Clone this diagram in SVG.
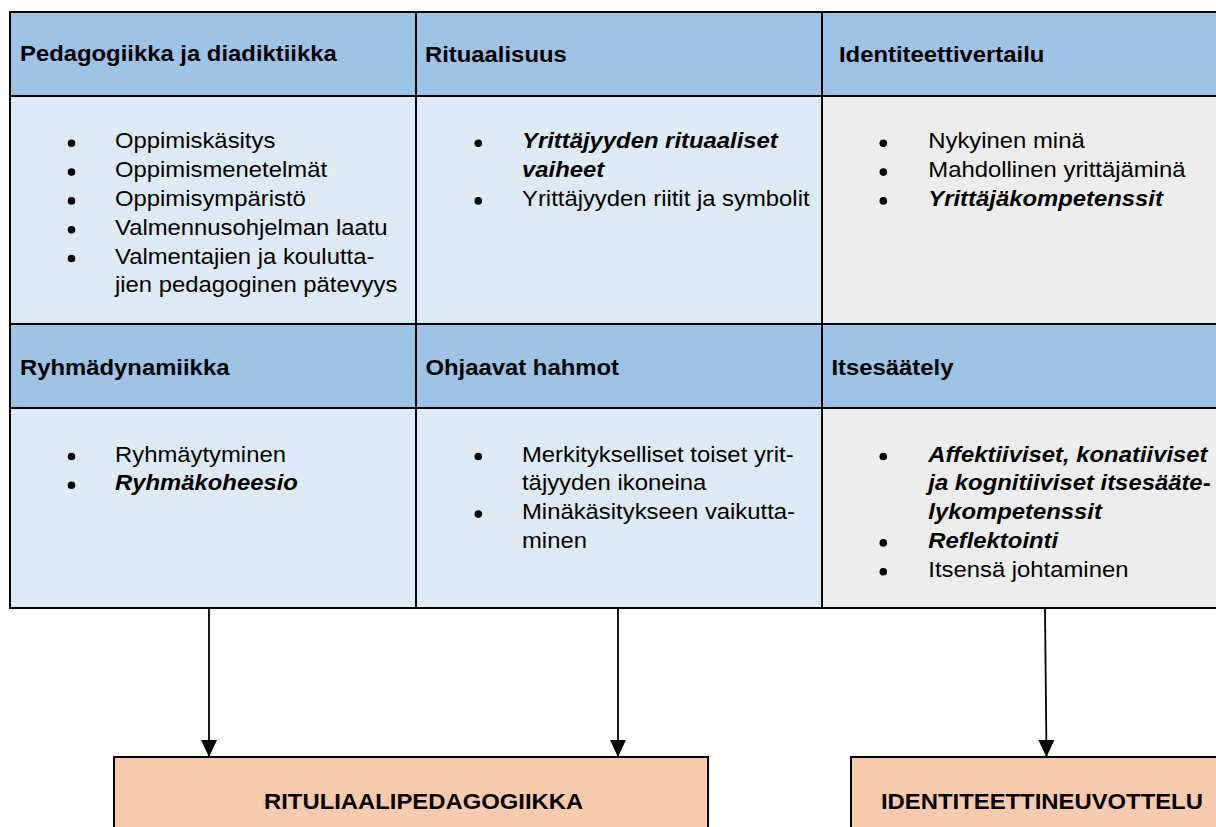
<svg xmlns="http://www.w3.org/2000/svg" width="1216" height="827" viewBox="0 0 1216 827">
<style>
.hd{fill:#9DC3E6;stroke:#000;stroke-width:2}
.bb{fill:#DDEBF7;stroke:#000;stroke-width:2}
.bg{fill:#EDEDED;stroke:#000;stroke-width:2}
.out{fill:#F8CBAD;stroke:#000;stroke-width:2}
text{font-family:"Liberation Sans",Arial,sans-serif;font-size:22.3px;fill:#000}
.b{font-weight:bold}
.bi{font-weight:bold;font-style:italic}
.dot{fill:#000}
.con{stroke:#000;stroke-width:1.8;fill:none}
</style>
<defs>
<marker id="ah" viewBox="0 0 17 16" refX="17" refY="8" markerWidth="17" markerHeight="16" markerUnits="userSpaceOnUse" orient="auto">
<path d="M0,0 L17,8 L0,16 z" fill="#000"/>
</marker>
</defs>
<rect width="1216" height="827" fill="#fff"/>

<g id="pedagogiikka">
<rect class="hd" x="10" y="12" width="406" height="84"/>
<rect class="bb" x="10" y="96" width="406" height="228"/>
<text class="b" transform="matrix(1.07 0 0 1 20 61)">Pedagogiikka ja diadiktiikka</text>
<circle class="dot" cx="71.5" cy="143.3" r="3.8"/>
<circle class="dot" cx="71.5" cy="172.1" r="3.8"/>
<circle class="dot" cx="71.5" cy="200.9" r="3.8"/>
<circle class="dot" cx="71.5" cy="229.7" r="3.8"/>
<circle class="dot" cx="71.5" cy="258.5" r="3.8"/>
<text transform="matrix(1.07 0 0 1 115 148.3)">Oppimiskäsitys</text>
<text transform="matrix(1.07 0 0 1 115 177.1)">Oppimismenetelmät</text>
<text transform="matrix(1.07 0 0 1 115 205.9)">Oppimisympäristö</text>
<text transform="matrix(1.07 0 0 1 115 234.7)">Valmennusohjelman laatu</text>
<text transform="matrix(1.07 0 0 1 115 263.5)">Valmentajien ja koulutta-</text>
<text transform="matrix(1.07 0 0 1 115 292.3)">jien pedagoginen pätevyys</text>
</g>

<g id="rituaalisuus">
<rect class="hd" x="416" y="12" width="406" height="84"/>
<rect class="bb" x="416" y="96" width="406" height="228"/>
<text class="b" transform="matrix(1.07 0 0 1 425 62)">Rituaalisuus</text>
<circle class="dot" cx="478.3" cy="143.3" r="3.8"/>
<circle class="dot" cx="478.3" cy="200.9" r="3.8"/>
<text class="bi" transform="matrix(1.07 0 0 1 522 148.3)">Yrittäjyyden rituaaliset</text>
<text class="bi" transform="matrix(1.07 0 0 1 522 177.1)">vaiheet</text>
<text transform="matrix(1.07 0 0 1 522 205.9)">Yrittäjyyden riitit ja symbolit</text>
</g>

<g id="identiteettivertailu">
<rect class="hd" x="822" y="12" width="408" height="84"/>
<rect class="bg" x="822" y="96" width="408" height="228"/>
<text class="b" transform="matrix(1.07 0 0 1 839 61.5)">Identiteettivertailu</text>
<circle class="dot" cx="883.3" cy="143.3" r="3.8"/>
<circle class="dot" cx="883.3" cy="172.1" r="3.8"/>
<circle class="dot" cx="883.3" cy="200.9" r="3.8"/>
<text transform="matrix(1.07 0 0 1 928.3 148.3)">Nykyinen minä</text>
<text transform="matrix(1.07 0 0 1 928.3 177.1)">Mahdollinen yrittäjäminä</text>
<text class="bi" transform="matrix(1.07 0 0 1 928.3 205.9)">Yrittäjäkompetenssit</text>
</g>

<g id="ryhmadynamiikka">
<rect class="hd" x="10" y="324" width="406" height="84"/>
<rect class="bb" x="10" y="408" width="406" height="200"/>
<text class="b" transform="matrix(1.07 0 0 1 20 375)">Ryhmädynamiikka</text>
<circle class="dot" cx="71.5" cy="456.5" r="3.8"/>
<circle class="dot" cx="71.5" cy="485.3" r="3.8"/>
<text transform="matrix(1.07 0 0 1 115 461.5)">Ryhmäytyminen</text>
<text class="bi" transform="matrix(1.07 0 0 1 115 490.3)">Ryhmäkoheesio</text>
</g>

<g id="ohjaavat-hahmot">
<rect class="hd" x="416" y="324" width="406" height="84"/>
<rect class="bb" x="416" y="408" width="406" height="200"/>
<text class="b" transform="matrix(1.07 0 0 1 425.5 375)">Ohjaavat hahmot</text>
<circle class="dot" cx="478.3" cy="456.5" r="3.8"/>
<circle class="dot" cx="478.3" cy="514.1" r="3.8"/>
<text transform="matrix(1.07 0 0 1 522 461.5)">Merkitykselliset toiset yrit-</text>
<text transform="matrix(1.07 0 0 1 522 490.3)">täjyyden ikoneina</text>
<text transform="matrix(1.07 0 0 1 522 519.1)">Minäkäsitykseen vaikutta-</text>
<text transform="matrix(1.07 0 0 1 522 547.9)">minen</text>
</g>

<g id="itsesaately">
<rect class="hd" x="822" y="324" width="408" height="84"/>
<rect class="bg" x="822" y="408" width="408" height="200"/>
<text class="b" transform="matrix(1.07 0 0 1 831.5 375)">Itsesäätely</text>
<circle class="dot" cx="883.3" cy="456.5" r="3.8"/>
<circle class="dot" cx="883.3" cy="542.9" r="3.8"/>
<circle class="dot" cx="883.3" cy="571.7" r="3.8"/>
<text class="bi" transform="matrix(1.07 0 0 1 928.3 461.5)">Affektiiviset, konatiiviset</text>
<text class="bi" transform="matrix(1.07 0 0 1 928.3 490.3)">ja kognitiiviset itsesääte-</text>
<text class="bi" transform="matrix(1.07 0 0 1 928.3 519.1)">lykompetenssit</text>
<text class="bi" transform="matrix(1.07 0 0 1 928.3 547.9)">Reflektointi</text>
<text transform="matrix(1.07 0 0 1 928.3 576.7)">Itsensä johtaminen</text>
</g>

<g id="connectors">
<line class="con" x1="209" y1="609" x2="209" y2="757" marker-end="url(#ah)"/>
<line class="con" x1="618" y1="609" x2="618" y2="757" marker-end="url(#ah)"/>
<line class="con" x1="1045" y1="609" x2="1046.5" y2="757" marker-end="url(#ah)"/>
</g>

<g id="rituaalipedagogiikka">
<rect class="out" x="114" y="757" width="594" height="90"/>
<text class="b" transform="matrix(1.07 0 0 1 264 809)">RITULIAALIPEDAGOGIIKKA</text>
</g>

<g id="identiteettineuvottelu">
<rect class="out" x="851" y="757" width="390" height="90"/>
<text class="b" transform="matrix(1.07 0 0 1 881 809)">IDENTITEETTINEUVOTTELU</text>
</g>
</svg>
